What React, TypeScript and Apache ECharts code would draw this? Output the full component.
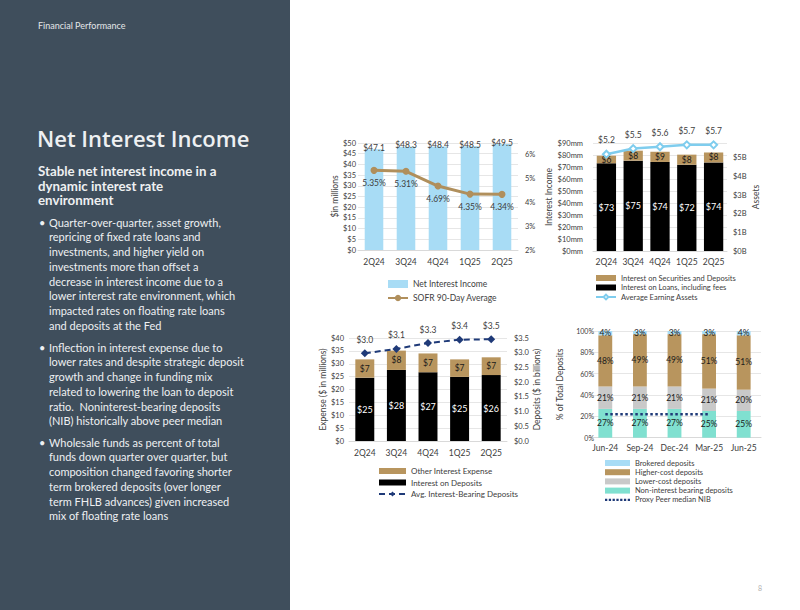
import React, { useEffect, useRef } from "react";
import * as echarts from "echarts";

const quarters = ["2Q24", "3Q24", "4Q24", "1Q25", "2Q25"];
const netInterestIncome = [47.1, 48.3, 48.4, 48.5, 49.5];
const sofr90 = [5.35, 5.31, 4.69, 4.35, 4.34];
const loanInterest = [73.1, 75.3, 74.2, 71.9, 73.8];
const securitiesInterest = [6.3, 8.3, 8.5, 8.4, 8.3];
const avgEarningAssets = [5.2, 5.5, 5.6, 5.7, 5.7];
const depositInterest = [24.6, 27.6, 26.7, 24.9, 25.6];
const otherInterestExpense = [7.1, 7.5, 7.3, 6.8, 6.9];
const avgInterestBearingDeposits = [2.98, 3.13, 3.33, 3.44, 3.46];
const months = ["Jun-24", "Sep-24", "Dec-24", "Mar-25", "Jun-25"];
const nibPct = [27, 27, 27, 25, 25];
const lowerCostPct = [21, 21, 21, 21, 20];
const higherCostPct = [48, 49, 49, 51, 51];
const brokeredPct = [4, 3, 3, 3, 4];
const peerMedianNib = [22, 22, 22, 22, null];

const subtitleLines = ["Stable net interest income in a", "dynamic interest rate", "environment"];
const bullet1 = [
  "Quarter-over-quarter, asset growth,",
  "repricing of fixed rate loans and",
  "investments, and higher yield on",
  "investments more than offset a",
  "decrease in interest income due to a",
  "lower interest rate environment, which",
  "impacted rates on floating rate loans",
  "and deposits at the Fed",
];
const bullet2 = [
  "Inflection in interest expense due to",
  "lower rates and despite strategic deposit",
  "growth and change in funding mix",
  "related to lowering the loan to deposit",
  "ratio.  Noninterest-bearing deposits",
  "(NIB) historically above peer median",
];
const bullet3 = [
  "Wholesale funds as percent of total",
  "funds down quarter over quarter, but",
  "composition changed favoring shorter",
  "term brokered deposits (over longer",
  "term FHLB advances) given increased",
  "mix of floating rate loans",
];

const FONT = "Lato";
const AX = "#404040";
const GRIDC = "#e6e6e6";
const BLUE = "#a8dcf5";
const TAN = "#b8955e";
const NAVY = "#1f3a78";
const DOTTED_ICON = "path://M0 0h3v3H0z M5 0h3v3H5z M10 0h3v3h-3z M15 0h3v3h-3z M20 0h3v3h-3z M25 0h3v3h-3z M30 0h3v3h-3z";

function txt(x: number, y: number, text: string, size: number, opts: any = {}) {
  return {
    type: "text",
    x,
    y,
    silent: true,
    style: {
      text,
      fill: opts.fill || "#eef0f2",
      fontSize: size,
      fontFamily: opts.family || FONT,
      fontWeight: opts.weight || "normal",
      align: "left",
      verticalAlign: "middle",
      textAlign: "left",
      textVerticalAlign: "middle",
    },
  };
}

function bulletBlock(lines: string[], y0: number) {
  const els: any[] = [txt(39, y0, "•", 11)];
  lines.forEach((l, i) => els.push(txt(49, y0 + i * 14.75, l, 11)));
  return els;
}

function valAxis(grid: number, min: number, max: number, interval: number, fmt: (v: number) => string, extra: any = {}) {
  return {
    type: "value",
    gridIndex: grid,
    min,
    max,
    interval,
    axisLine: { show: false },
    axisTick: { show: false },
    splitLine: { show: false },
    axisLabel: { color: AX, fontSize: 7.5, fontFamily: FONT, formatter: fmt, showMaxLabel: true },
    nameLocation: "middle",
    nameRotate: 90,
    nameTextStyle: { color: AX, fontSize: 8.5, fontFamily: FONT },
    ...extra,
  };
}

function catAxis(grid: number, data: string[], margin: number) {
  return {
    type: "category",
    gridIndex: grid,
    data,
    axisLine: { show: true, lineStyle: { color: "#d9d9d9" } },
    axisTick: { show: false },
    axisLabel: { color: AX, fontSize: 8.5, fontFamily: FONT, margin, interval: 0 },
  };
}

export default function App() {
  const ref = useRef<HTMLDivElement>(null);
  useEffect(() => {
    if (!ref.current) return;
    const chart = echarts.init(ref.current, undefined, { renderer: "svg" });
    const legendText = (size: number, lh: number) => ({ color: AX, fontSize: size, fontFamily: FONT, lineHeight: lh });

    const option: any = {
      animation: false,
      backgroundColor: "#ffffff",
      textStyle: { fontFamily: FONT },
      graphic: [
        { type: "rect", silent: true, shape: { x: 0, y: 0, width: 290, height: 610 }, style: { fill: "#3f4e5c" } },
        txt(38, 25, "Financial Performance", 9, { fill: "#e4e6e8" }),
        txt(37, 138, "Net Interest Income", 22, { family: "Open Sans", weight: 600 }),
        ...subtitleLines.map((l, i) => txt(38, 171 + i * 14.5, l, 13.3, { weight: "bold" })),
        ...bulletBlock(bullet1, 222),
        ...bulletBlock(bullet2, 347),
        ...bulletBlock(bullet3, 442),
        txt(758, 588, "8", 7, { fill: "#b0b0b0" }),
      ],
      grid: [
        { left: 358, top: 143, width: 160, height: 107 },
        { left: 593, top: 143, width: 134, height: 108 },
        { left: 349, top: 338, width: 158, height: 103 },
        { left: 588, top: 331, width: 173, height: 106.7 },
      ],
      xAxis: [catAxis(0, quarters, 7), catAxis(1, quarters, 6), catAxis(2, quarters, 7), catAxis(3, months, 6)],
      yAxis: [
        valAxis(0, 0, 50, 5, (v) => "$" + v, {
          splitLine: { show: true, lineStyle: { color: GRIDC } },
          name: "$in millions",
          nameGap: 16,
          axisLabel: { color: AX, fontSize: 7.5, fontFamily: FONT, formatter: (v: number) => "$" + v, margin: 2 },
        }),
        valAxis(0, 2, 6.5, 1, (v) => v + "%", {
          position: "right",
          axisLabel: { color: AX, fontSize: 7.5, fontFamily: FONT, formatter: (v: number) => v + "%", showMaxLabel: false, margin: 7 },
        }),
        valAxis(1, 0, 90, 10, (v) => "$" + v + "mm", {
          splitLine: { show: true, lineStyle: { color: GRIDC } },
          name: "Interest Income",
          nameGap: 33,
          axisLabel: { color: AX, fontSize: 7.5, fontFamily: FONT, formatter: (v: number) => "$" + v + "mm", margin: 10 },
        }),
        valAxis(1, 0, 5.8, 1, (v) => "$" + v + "B", {
          position: "right",
          name: "Assets",
          nameGap: 24,
          axisLabel: { color: AX, fontSize: 7.5, fontFamily: FONT, formatter: (v: number) => "$" + v + "B", showMaxLabel: false, margin: 6 },
        }),
        valAxis(2, 0, 40, 5, (v) => "$" + v, {
          splitLine: { show: true, lineStyle: { color: GRIDC } },
          name: "Expense ($ in millions)",
          nameGap: 18,
          axisLabel: { color: AX, fontSize: 7.5, fontFamily: FONT, formatter: (v: number) => "$" + v, margin: 5 },
        }),
        valAxis(2, 0, 3.5, 0.5, (v) => "$" + v.toFixed(1), {
          position: "right",
          name: "Deposits ($ in billions)",
          nameGap: 25,
          axisLabel: { color: AX, fontSize: 7.5, fontFamily: FONT, formatter: (v: number) => "$" + v.toFixed(1), margin: 7 },
        }),
        valAxis(3, 0, 100, 20, (v) => v + "%", {
          splitLine: { show: true, lineStyle: { color: GRIDC } },
          name: "% of Total Deposits",
          nameGap: 24,
          axisLabel: { color: AX, fontSize: 7, fontFamily: FONT, formatter: (v: number) => v + "%", margin: -6 },
        }),
      ],
      legend: [
        {
          orient: "vertical", left: 382, top: 274, itemWidth: 20, itemHeight: 8, itemGap: 4,
          textStyle: legendText(8.5, 10),
          data: [{ name: "Net Interest Income", icon: "rect" }, { name: "SOFR 90-Day Average" }],
        },
        {
          orient: "vertical", left: 590, top: 268.5, itemWidth: 20, itemHeight: 6, itemGap: 0.5,
          textStyle: legendText(7.5, 9),
          data: [
            { name: "Interest on Securities and Deposits", icon: "rect" },
            { name: "Interest on Loans, including fees", icon: "rect" },
            { name: "Average Earning Assets" },
          ],
        },
        {
          orient: "vertical", left: 373, top: 461, itemWidth: 27, itemHeight: 6, itemGap: 1.5,
          textStyle: legendText(8, 10),
          data: [
            { name: "Other Interest Expense", icon: "rect" },
            { name: "Interest on Deposits", icon: "rect" },
            { name: "Avg. Interest-Bearing Deposits" },
          ],
        },
        {
          orient: "vertical", left: 600, top: 453.5, itemWidth: 25, itemHeight: 6, itemGap: 0.2,
          textStyle: legendText(7.5, 9),
          data: [
            { name: "Brokered deposits", icon: "rect" },
            { name: "Higher-cost deposits", icon: "rect" },
            { name: "Lower-cost deposits", icon: "rect" },
            { name: "Non-interest bearing deposits", icon: "rect" },
            { name: "Proxy Peer median NIB", icon: DOTTED_ICON },
          ],
        },
      ],
      series: [
        {
          name: "Net Interest Income", type: "bar", xAxisIndex: 0, yAxisIndex: 0, data: netInterestIncome,
          barWidth: "58%", itemStyle: { color: BLUE },
          label: { show: true, position: "top", distance: -3, color: AX, fontSize: 8.5, formatter: (p: any) => "$" + p.value.toFixed(1) },
        },
        {
          name: "SOFR 90-Day Average", type: "line", xAxisIndex: 0, yAxisIndex: 1, data: sofr90,
          symbol: "circle", symbolSize: 7, itemStyle: { color: "#b08f5c" }, lineStyle: { color: "#b08f5c", width: 3 },
          label: { show: true, position: "bottom", distance: 5, color: AX, fontSize: 8.5, formatter: (p: any) => p.value.toFixed(2) + "%" },
          z: 5,
        },
        {
          name: "Interest on Loans, including fees", type: "bar", stack: "inc", xAxisIndex: 1, yAxisIndex: 2, data: loanInterest,
          barWidth: "72%", itemStyle: { color: "#000000" },
          label: { show: true, position: "inside", color: "#ffffff", fontSize: 9, formatter: (p: any) => "$" + Math.round(p.value) },
        },
        {
          name: "Interest on Securities and Deposits", type: "bar", stack: "inc", xAxisIndex: 1, yAxisIndex: 2, data: securitiesInterest,
          barWidth: "72%", itemStyle: { color: TAN },
          label: { show: true, position: "inside", color: "#1a1a1a", fontSize: 8.5, formatter: (p: any) => "$" + Math.round(p.value) },
        },
        {
          name: "Average Earning Assets", type: "line", xAxisIndex: 1, yAxisIndex: 3, data: avgEarningAssets,
          symbol: "emptyDiamond", symbolSize: 7, itemStyle: { color: "#7fcdee" }, lineStyle: { color: "#7fcdee", width: 2.5 },
          label: { show: true, position: "top", distance: 5, color: AX, fontSize: 8.5, formatter: (p: any) => "$" + p.value.toFixed(1) },
          z: 5,
        },
        {
          name: "Interest on Deposits", type: "bar", stack: "exp", xAxisIndex: 2, yAxisIndex: 4, data: depositInterest,
          barWidth: "60%", itemStyle: { color: "#000000" },
          label: { show: true, position: "inside", color: "#ffffff", fontSize: 9, formatter: (p: any) => "$" + Math.round(p.value) },
        },
        {
          name: "Other Interest Expense", type: "bar", stack: "exp", xAxisIndex: 2, yAxisIndex: 4, data: otherInterestExpense,
          barWidth: "60%", itemStyle: { color: TAN },
          label: { show: true, position: "inside", color: "#1a1a1a", fontSize: 8.5, formatter: (p: any) => "$" + Math.round(p.value) },
        },
        {
          name: "Avg. Interest-Bearing Deposits", type: "line", xAxisIndex: 2, yAxisIndex: 5, data: avgInterestBearingDeposits,
          symbol: "diamond", symbolSize: 8, itemStyle: { color: NAVY }, lineStyle: { color: NAVY, width: 2, type: [6, 4] },
          label: { show: true, position: "top", distance: 5, color: AX, fontSize: 8.5, formatter: (p: any) => "$" + p.value.toFixed(1) },
          z: 5,
        },
        {
          name: "Non-interest bearing deposits", type: "bar", stack: "mix", xAxisIndex: 3, yAxisIndex: 6, data: nibPct,
          barWidth: "40%", itemStyle: { color: "#80e0d0" },
          label: { show: true, position: "inside", color: "#1a1a1a", fontSize: 8.5, formatter: (p: any) => p.value + "%" },
        },
        {
          name: "Lower-cost deposits", type: "bar", stack: "mix", xAxisIndex: 3, yAxisIndex: 6, data: lowerCostPct,
          barWidth: "40%", itemStyle: { color: "#c9c9c9" },
          label: { show: true, position: "inside", color: "#1a1a1a", fontSize: 8.5, formatter: (p: any) => p.value + "%" },
        },
        {
          name: "Higher-cost deposits", type: "bar", stack: "mix", xAxisIndex: 3, yAxisIndex: 6, data: higherCostPct,
          barWidth: "40%", itemStyle: { color: TAN },
          label: { show: true, position: "inside", color: "#1a1a1a", fontSize: 8.5, formatter: (p: any) => p.value + "%" },
        },
        {
          name: "Brokered deposits", type: "bar", stack: "mix", xAxisIndex: 3, yAxisIndex: 6, data: brokeredPct,
          barWidth: "40%", itemStyle: { color: BLUE },
          label: { show: true, position: "inside", color: "#1a1a1a", fontSize: 8.5, formatter: (p: any) => p.value + "%" },
        },
        {
          name: "Proxy Peer median NIB", type: "line", xAxisIndex: 3, yAxisIndex: 6, data: peerMedianNib,
          symbol: "none", itemStyle: { color: NAVY }, lineStyle: { color: NAVY, width: 2.5, type: [2.5, 2.5] },
          z: 6,
        },
      ],
    };
    chart.setOption(option);
    return () => chart.dispose();
  }, []);
  return <div ref={ref} style={{ position: "absolute", left: 0, top: 0, width: 800, height: 610 }} />;
}
